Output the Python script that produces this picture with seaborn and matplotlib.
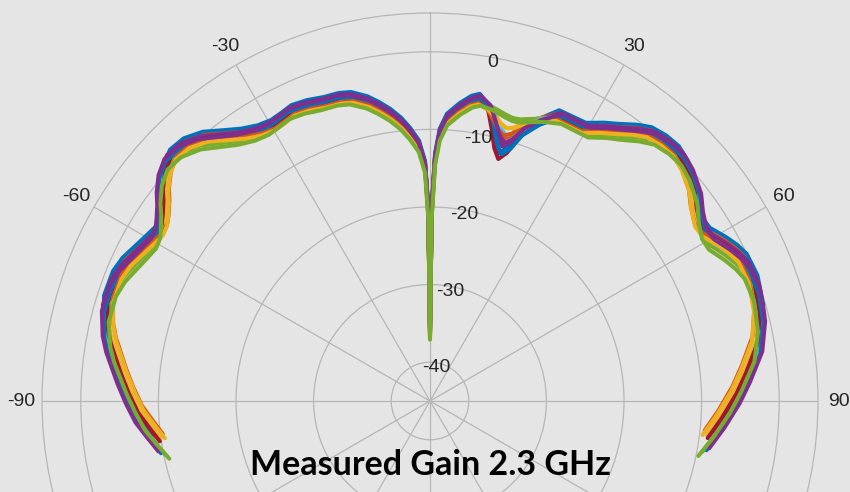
import numpy as np
import pandas as pd
import matplotlib
matplotlib.use("Agg")
import matplotlib.pyplot as plt
import seaborn as sns

# ---------------- data ----------------
theta_deg = [-100, -97, -93.7, -90, -86.5, -84.3, -81, -78.4, -74.3, -69.8, -67, -64.5,
             -62, -59.4, -57.5, -55.9, -54, -52.4, -50, -47.4, -44.5, -41.4, -38.5,
             -35.8, -33, -30.4, -28, -25.9, -23, -19.9, -17, -14.8, -12, -10, -8, -6,
             -4.3, -2.5, -1.2, -0.5, 0, 0.5, 1.2, 2.1, 3.5, 5.9, 8, 9.5, 11.5, 13, 14.5,
             16, 17.5, 19, 21.5, 24.7, 27.5, 30.2, 33, 35.3, 38, 40.2, 43, 45.7, 48.5,
             52.3, 55, 57.8, 60, 62.9, 65, 67.1, 71.1, 76.2, 81.1, 86.2, 90, 94.7, 99.1]
gain_db = [-10.0, -8.9, -7.55, -6.4, -5.3, -4.6, -3.4, -2.6, -1.75, -1.75, -2.2, -2.9,
           -3.5, -4.0, -3.8, -3.2, -2.3, -1.3, -0.1, 0.7, 0.5, -0.5, -2.0,
           -3.2, -4.0, -4.3, -4.1, -3.8, -4.0, -4.4, -4.5, -4.8, -5.8, -6.8, -7.9, -9.2,
           -10.6, -12.3, -15.0, -21.0, -36.5, -21.0, -14.0, -10.8, -8.8, -7.3, -6.2, -5.8,
           -6.0, -6.3, -6.6, -6.8, -6.7, -6.3, -5.6, -4.9, -4.9, -4.8, -3.6, -2.7, -1.4,
           -0.5, -0.1, 0.0, -0.5, -1.6, -2.8, -3.6, -3.5, -2.3, -1.5, -0.9, -0.7, -1.2,
           -2.3, -4.3, -5.7, -7.5, -9.1]
# extra dip seen on some traces near +16 deg (deg -> dB)
dip_db = {11.5: -1.0, 13: -3.0, 14.5: -5.0, 16: -6.0, 17.5: -5.0, 19: -3.0, 21.5: -1.5}

# per-trace spread of the bundle
series_scale_pct = [-3.0, -2.5, -2.0, -1.0, 1.5, 0.0, -1.5, 1.0, -3.0, -2.0, 0.5, 2.5]
series_offset_db = [0.9, 0.5, 0.1, 0.7, -0.2, 0.4, 0.2, 0.3, -0.3, -0.5, 0.6, -0.6]
series_dip_weight = [1.0, 0.6, 0.3, 0.8, 0.0, 0.5, 1.0, 0.9, 0.4, 0.2, 0.7, 0.0]
series_colors = ['#0072BD', '#D95319', '#EDB120', '#7E2F8E', '#77AC30', '#4DBEEE',
                 '#A2142F', '#0072BD', '#D95319', '#EDB120', '#7E2F8E', '#77AC30']

angle_ticks = list(range(0, 360, 30))
angle_labels = ['0', '30', '60', '90', '120', '150', '180', '-150', '-120', '-90', '-60', '-30']
r_ticks = [-40, -30, -20, -10, 0]
r_labels = ['-40', '-30', '-20', '-10', '0']
r_limits = (-45, 5)
title_text = "Measured Gain 2.3 GHz"

# ---------------- build table ----------------
rows = []
for i, (sc, off, w) in enumerate(zip(series_scale_pct, series_offset_db, series_dip_weight)):
    name = f"s{i:02d}"
    for t, g in zip(theta_deg, gain_db):
        tt = t * (1 + sc / 100.0)
        gg = g + off + w * dip_db.get(t, 0.0)
        rows.append((name, np.deg2rad(tt), gg))
df = pd.DataFrame(rows, columns=["series", "theta", "gain"])
hue_order = [f"s{i:02d}" for i in range(len(series_colors))]

# ---------------- plot ----------------
sns.set_theme(style="white")
plt.rcParams['font.family'] = ['Liberation Sans', 'DejaVu Sans']

bg = '#e5e5e5'
grid_c = '#b6b6b6'
txt_c = '#262626'
fig = plt.figure(figsize=(8.5, 4.92), dpi=100, facecolor=bg)
ax = fig.add_axes([42 / 850, (492 - 789) / 492, 776 / 850, 776 / 492],
                  projection='polar', facecolor=bg)

sns.lineplot(data=df, x="theta", y="gain", hue="series", hue_order=hue_order,
             palette=series_colors, sort=False, estimator=None, legend=False,
             linewidth=2.9, ax=ax)

ax.set_theta_zero_location('N')
ax.set_theta_direction(-1)
ax.set_ylim(*r_limits)
ax.set_yticks(r_ticks)
ax.set_yticklabels([])
ax.set_thetagrids(angle_ticks, angle_labels)
ax.set_xlabel("")
ax.set_ylabel("")
ax.grid(True, color=grid_c, linewidth=0.9)
ax.spines['polar'].set_color(grid_c)
ax.spines['polar'].set_linewidth(0.9)
ax.tick_params(axis='x', labelsize=14, colors=txt_c, pad=2)

# radial labels centred just inside their rings along the 10 degree direction
for rv, lab in zip(r_ticks, r_labels):
    ax.text(np.deg2rad(10.5), rv - 0.6, lab, ha='center', va='center', fontsize=14,
            color=txt_c, zorder=10)

fig.text(0.506, (492 - 475) / 492, title_text, ha='center', va='baseline',
         fontsize=24.5, fontweight='bold', family=['Lato', 'DejaVu Sans'], color='black')

fig.savefig("out.png", dpi=100, facecolor=bg)
